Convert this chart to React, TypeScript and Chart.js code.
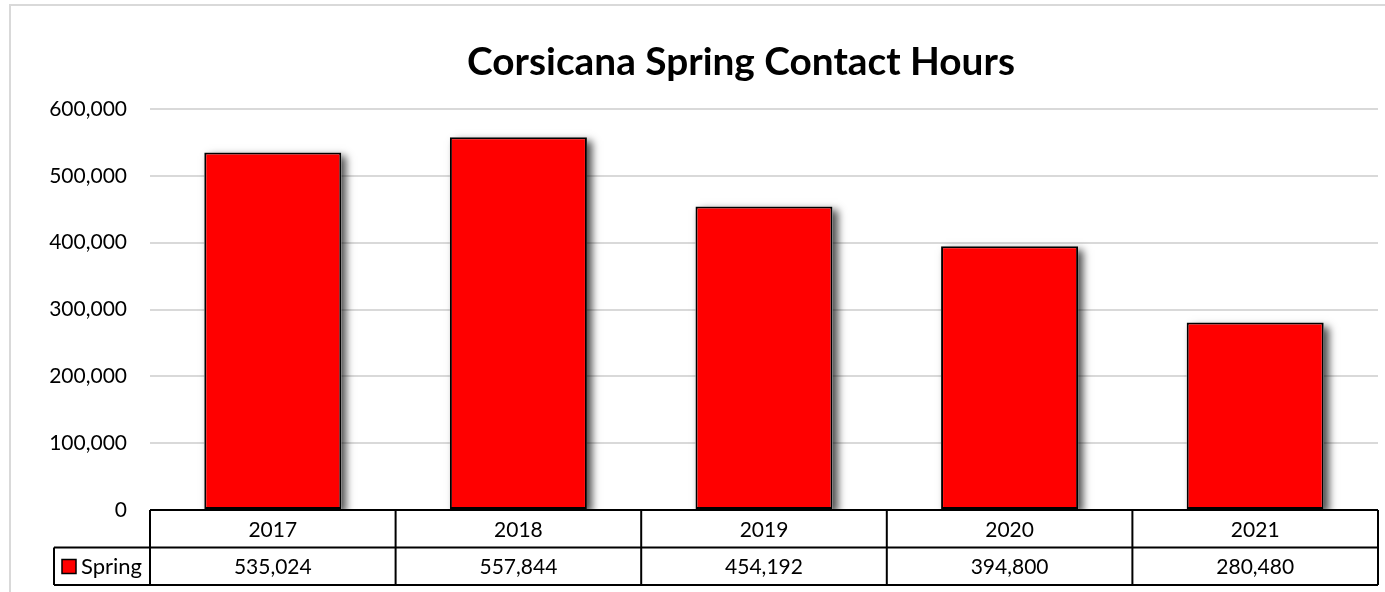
import React, { useEffect, useRef } from "react";
import { Chart, registerables } from "chart.js";

Chart.register(...registerables);

const TITLE = "Corsicana Spring Contact Hours";
const categories = ["2017", "2018", "2019", "2020", "2021"];
const seriesName = "Spring";
const springValues = [535024, 557844, 454192, 394800, 280480];
const yMin = 0;
const yMax = 600000;
const yStep = 100000;

const FONT = "Lato, 'Open Sans', sans-serif";
const W = 1385;
const H = 592;

const fmt = (v: number) => Number(v).toLocaleString("en-US");

const excelPlugin = {
  id: "excelLook",
  beforeDraw(chart: any) {
    const ctx = chart.ctx;
    ctx.save();
    ctx.fillStyle = "#ffffff";
    ctx.fillRect(0, 0, chart.width, chart.height);
    ctx.strokeStyle = "#d9d9d9";
    ctx.lineWidth = 2;
    ctx.strokeRect(10, 5, chart.width + 100, chart.height + 100);
    ctx.restore();
  },
  beforeDatasetsDraw(chart: any) {
    const ctx = chart.ctx;
    const meta = chart.getDatasetMeta(0);
    ctx.save();
    ctx.shadowColor = "rgba(0,0,0,0.7)";
    ctx.shadowBlur = 8;
    ctx.shadowOffsetX = 5;
    ctx.shadowOffsetY = 4;
    ctx.fillStyle = "#ffffff";
    meta.data.forEach((el: any) => {
      const p = el.getProps(["x", "y", "base", "width"], true);
      ctx.fillRect(p.x - p.width / 2, p.y, p.width, p.base - p.y);
    });
    ctx.restore();
  },
  afterDraw(chart: any) {
    const ctx = chart.ctx;
    const area = chart.chartArea;
    const n = categories.length;
    const colW = (area.right - area.left) / n;
    const top = area.bottom;
    const rowH = 37.5;
    const r1 = top + rowH;
    const r2 = r1 + rowH;
    const legendLeft = 54;

    ctx.save();
    // title
    ctx.fillStyle = "#000000";
    ctx.font = `bold 40px ${FONT}`;
    const tw = ctx.measureText(TITLE).width;
    const ts = (40 * 548) / tw;
    ctx.font = `bold ${ts}px ${FONT}`;
    ctx.textAlign = "center";
    ctx.textBaseline = "alphabetic";
    ctx.fillText(TITLE, 741, 75);

    // table background
    ctx.fillStyle = "#ffffff";
    ctx.fillRect(area.left, top + 1, area.right - area.left, rowH * 2);
    ctx.fillRect(legendLeft, r1, area.left - legendLeft, rowH);

    // table lines
    ctx.strokeStyle = "#000000";
    ctx.lineWidth = 2;
    ctx.beginPath();
    ctx.moveTo(area.left, top);
    ctx.lineTo(area.right, top);
    ctx.moveTo(legendLeft, r1);
    ctx.lineTo(area.right, r1);
    ctx.moveTo(legendLeft, r2);
    ctx.lineTo(area.right, r2);
    ctx.moveTo(legendLeft, r1);
    ctx.lineTo(legendLeft, r2);
    for (let i = 0; i <= n; i++) {
      const x = area.left + colW * i;
      ctx.moveTo(x, top);
      ctx.lineTo(x, r2);
    }
    ctx.stroke();

    // table text
    ctx.fillStyle = "#000000";
    ctx.font = `21px ${FONT}`;
    ctx.textAlign = "center";
    for (let i = 0; i < n; i++) {
      const cx = chart.scales.x.getPixelForValue(i);
      ctx.fillText(categories[i], cx, r1 - 11);
      ctx.fillText(fmt(springValues[i]), cx, r2 - 11);
    }
    // legend key
    ctx.fillStyle = "#ff0000";
    ctx.fillRect(62, r1 + 12, 14, 14);
    ctx.strokeStyle = "#000000";
    ctx.lineWidth = 1.5;
    ctx.strokeRect(62, r1 + 12, 14, 14);
    ctx.fillStyle = "#000000";
    ctx.textAlign = "left";
    ctx.font = `22px ${FONT}`;
    ctx.fillText(seriesName, 81, r2 - 11);
    ctx.restore();
  },
};

export default function App() {
  const ref = useRef<HTMLCanvasElement | null>(null);

  useEffect(() => {
    if (!ref.current) return;
    const chart = new Chart(ref.current, {
      type: "bar",
      data: {
        labels: categories,
        datasets: [
          {
            label: seriesName,
            data: springValues,
            backgroundColor: "#ff0000",
            borderColor: "#000000",
            borderWidth: 2,
            borderSkipped: false,
            barPercentage: 0.558,
            categoryPercentage: 1,
          },
        ],
      },
      options: {
        responsive: false,
        animation: false,
        devicePixelRatio: 1,
        layout: { padding: { left: 0, right: 7, top: 109, bottom: 82 } },
        plugins: {
          legend: { display: false },
          title: { display: false },
          tooltip: { enabled: false },
        },
        scales: {
          x: {
            display: false,
            offset: true,
            grid: { display: false },
          },
          y: {
            min: yMin,
            max: yMax,
            afterFit: (s: any) => {
              s.width = 150;
            },
            ticks: {
              stepSize: yStep,
              padding: 23,
              color: "#000000",
              font: { family: FONT, size: 21 },
              callback: (v: any) => fmt(v),
            },
            border: { display: false },
            grid: { color: "#d9d9d9", lineWidth: 2, drawTicks: false },
          },
        },
      },
      plugins: [excelPlugin],
    });
    return () => chart.destroy();
  }, []);

  return (
    <div style={{ position: "absolute", left: 0, top: 0, width: W, height: H, overflow: "hidden", background: "#fff" }}>
      <canvas ref={ref} width={W} height={H} style={{ display: "block", width: W, height: H }} />
    </div>
  );
}
